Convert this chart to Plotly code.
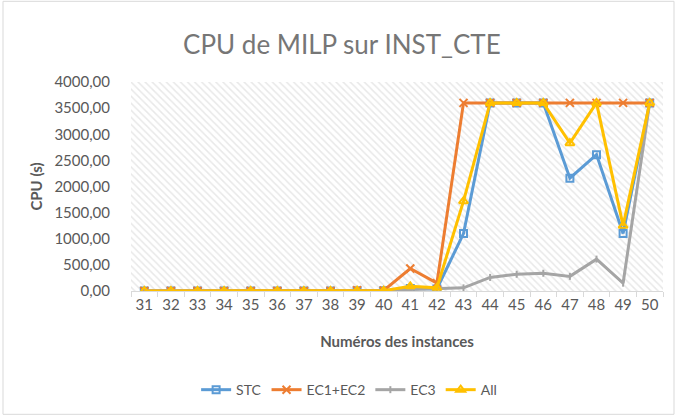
import plotly.graph_objects as go

instances = list(range(31, 51))
stc = [1, 1, 1, 1, 1, 1, 1, 2, 5, 5, 50, 40, 1100, 3600, 3600, 3600, 2160, 2610, 1100, 3600]
ec12 = [1, 1, 1, 1, 1, 1, 1, 2, 15, 10, 430, 150, 3600, 3600, 3600, 3600, 3600, 3600, 3600, 3600]
ec3 = [1, 1, 1, 1, 1, 1, 1, 1, 2, 3, 30, 40, 60, 260, 320, 340, 280, 610, 150, 3600]
all_ = [1, 1, 1, 1, 1, 1, 1, 2, 5, 5, 90, 60, 1720, 3600, 3600, 3600, 2830, 3600, 1250, 3600]
y_ticks = [0, 500, 1000, 1500, 2000, 2500, 3000, 3500, 4000]

x_range = [30.5, 50.5]
y_range = [0, 4000]
FONT = "Lato"
TXT = "#595959"

fig = go.Figure()

# hatched plot background
fig.add_trace(go.Scatter(
    x=[x_range[0], x_range[1], x_range[1], x_range[0], x_range[0]],
    y=[y_range[0], y_range[0], y_range[1], y_range[1], y_range[0]],
    mode="lines", line=dict(width=0), fill="toself", fillcolor="rgba(0,0,0,0)",
    fillpattern=dict(shape="\\", fgcolor="#d2d2d2", bgcolor="white", size=5, solidity=0.3),
    hoverinfo="skip", showlegend=False))

series = [
    ("STC", stc, "#5B9BD5", dict(symbol="square-open", size=7, line=dict(width=2))),
    ("EC1+EC2", ec12, "#ED7D31", dict(symbol="x-thin-open", size=8, line=dict(width=2, color="#ED7D31"))),
    ("EC3", ec3, "#A5A5A5", dict(symbol="line-ns-open", size=5, line=dict(width=2, color="#A5A5A5"))),
    ("All", all_, "#FFC000", dict(symbol="triangle-up-open", size=8, line=dict(width=2))),
]
for name, vals, color, mk in series:
    fig.add_trace(go.Scatter(
        x=instances, y=vals, name=name, mode="lines+markers",
        line=dict(color=color, width=3), marker=dict(color=color, **mk)))

fig.update_layout(
    width=677, height=417,
    margin=dict(l=131, r=14, t=82, b=125),
    paper_bgcolor="white", plot_bgcolor="white",
    separators=", ",
    font=dict(family=FONT, color=TXT, size=14),
    title=dict(text="CPU de MILP sur INST_CTE", x=0.505, xanchor="center",
               y=0.893, yanchor="middle",
               font=dict(family=FONT, size=26, color="#767676")),
    xaxis=dict(range=x_range, tickmode="array", tickvals=instances,
               ticktext=[str(i) for i in instances], ticks="",
               showgrid=False, zeroline=False, showline=True,
               linecolor="#d9d9d9", linewidth=1,
               tickfont=dict(size=15, color=TXT),
               minor=dict(tick0=30.5, dtick=1, ticks="outside", ticklen=5,
                          tickcolor="#d9d9d9", showgrid=False),
               title=dict(text="<b>Numéros des instances</b>", standoff=24,
                          font=dict(size=15, color=TXT))),
    yaxis=dict(range=y_range, tickmode="array", tickvals=y_ticks,
               tickformat=".2f", showgrid=False, zeroline=False,
               showline=False, ticks="", ticklabelstandoff=20,
               tickfont=dict(size=15, color=TXT),
               title=dict(text="<b>CPU (s)</b>", standoff=8,
                          font=dict(size=15, color=TXT))),
    legend=dict(orientation="h", x=0.41, xanchor="center", y=-0.467,
                yanchor="middle", font=dict(size=14, color=TXT),
                itemwidth=30, tracegroupgap=0),
    shapes=[dict(type="rect", xref="paper", yref="paper",
                 x0=-0.2406, x1=1.0207, y0=-0.59, y1=1.386,
                 line=dict(color="#d9d9d9", width=1), layer="below")],
)

fig.write_html("out.html", config={"displayModeBar": False},
               post_script="document.body.style.margin='0';")
